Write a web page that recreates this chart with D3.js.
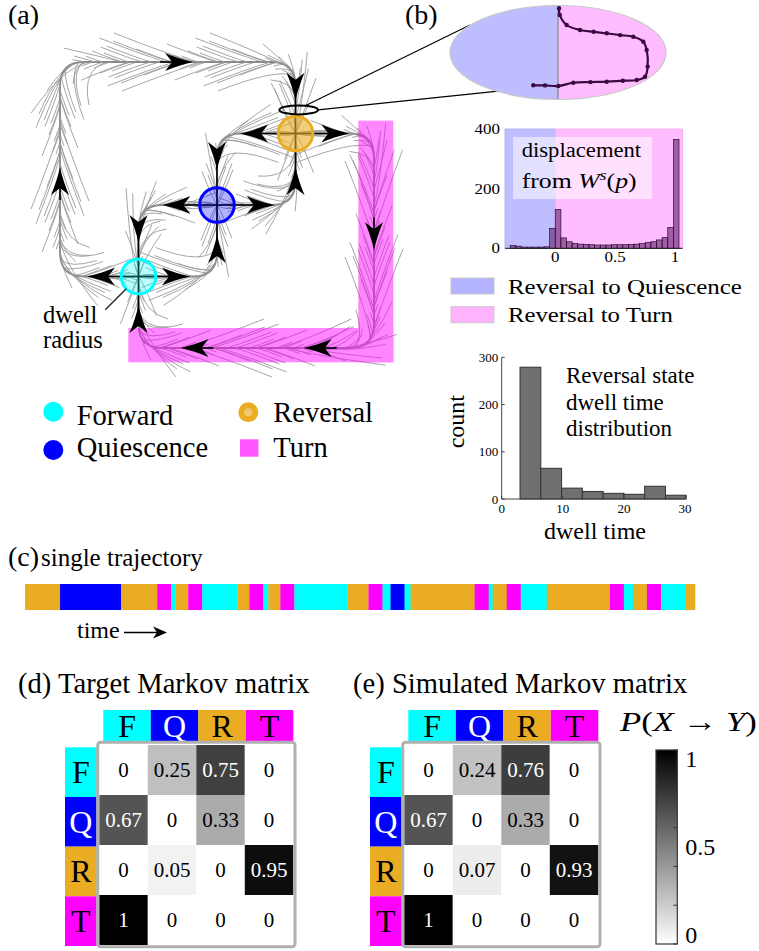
<!DOCTYPE html>
<html><head><meta charset="utf-8">
<script src="https://cdn.jsdelivr.net/npm/d3@7"></script>
<style>body{margin:0;background:#fff}svg{display:block}</style>
</head><body><svg id="fig" width="759" height="951" font-family="Liberation Serif, DejaVu Serif, serif"></svg>
<script>
// ================= DATA =================
const stateNames = ["F","Q","R","T"];
const stateLabels = ["Forward","Quiescence","Reversal","Turn"];
const stateColors = {F:"#00ffff",Q:"#0000ff",R:"#eaac22",T:"#ff00ff"};

// (b) displacement histogram
const dispBinStart = -0.376, dispBinWidth = 0.047;
const dispCounts = [9,7,4,4,4,4,5,67, 130,35,22,16,14,13,12,11,11,11,12,12,12,13,14,16,19,22,28,36,70,365];
const dispXDomain = [-0.42, 1.065];
const dispXTicks = [0,0.5,1];
const dispYTicks = [0,200,400];

// (b) dwell time histogram
const dwellBinStart = 3, dwellBinWidth = 3.4;
const dwellCounts = [279,65,23,16,12,10,27,8];
const dwellXTicks = [0,10,20,30];
const dwellYTicks = [0,100,200,300];

// (b) zoomed trajectory inside the ellipse (normalised ellipse coords)
const ellTrajU = [0.01,0.016,0.08,0.204,0.33,0.451,0.575,0.697,0.79,0.821,0.83,0.806,0.729,0.6,0.451,0.3,0.142,0.003,-0.12,-0.229];
const ellTrajV = [-0.94,-0.80,-0.585,-0.479,-0.44,-0.409,-0.37,-0.336,-0.23,-0.053,0.30,0.515,0.585,0.6,0.621,0.63,0.643,0.713,0.70,0.698];

// (c) single trajectory
const trajStates = ["R","Q","R","T","F","R","T","F","R","T","F","R","T","F","R","T","F","Q","F","R","T","F","R","T","F","R","T","F","R","T","F","R"];
const trajDurations = [35,61,36,14,4,13,14,35,12,14,5,12,14,53,21,14,8,14,6,64,14,4,14,14,26,63,14,9,14,14,25,9];

// (d),(e) Markov matrices
const targetMatrix = [[0,0.25,0.75,0],[0.67,0,0.33,0],[0,0.05,0,0.95],[1,0,0,0]];
const simMatrix    = [[0,0.24,0.76,0],[0.67,0,0.33,0],[0,0.07,0,0.93],[1,0,0,0]];
const cbarTicks = [0,0.5,1];

// (a) schematic network (grid units)
const netNodes = [{s:"F",x:1,y:3},{s:"Q",x:2,y:2},{s:"R",x:3,y:1}];
const netEdges = [
  [[1,3],[0,3],[0,0],[3,0],[3,1]],
  [[3,1],[2,1],[2,2]],
  [[3,1],[4,1],[4,4],[1,4],[1,3]],
  [[2,2],[1,2],[1,3]],
  [[2,2],[3,2],[3,1]],
  [[1,3],[2,3],[2,2]]
];
const netArrows = [[0.51,3,180],[0,1.65,-90],[1.53,0,0],[3,0.36,90],[2.46,1,180],[2,1.33,90],[3.52,1,0],[4,2.45,90],[3.27,4,180],[1.70,4,180],[1,3.58,-90],[1.47,2,180],[1,2.35,90],[2.57,2,0],[3,1.65,-90],[1.49,3,0],[2,2.6,-90]];
const turnBandRects = [[3.8,0.82,4.246,4.2],[0.87,3.72,4.246,4.2]];
const featherOffsets = [4,9,13,18,24,7,15,29,11,21,6,16];

// ================= DRAW =================
const svg = d3.select("#fig");
const FONT = "Liberation Serif, DejaVu Serif, serif";
function T(g,x,y,str,size,anchor){return g.append("text").attr("x",x).attr("y",y).attr("font-family",FONT).attr("font-size",size).attr("text-anchor",anchor||"start").attr("fill","#000").text(str);}
function fitX(sel,w){const b=sel.node().getBBox();const x=+sel.attr("x"),y=+sel.attr("y");sel.attr("x",0).attr("y",0).attr("transform",`translate(${x},${y}) scale(${w/b.width},1)`);}
function roundedPath(pts,r){
  let d=`M${pts[0][0]},${pts[0][1]}`;
  for(let i=1;i<pts.length-1;i++){
    const [px,py]=pts[i-1],[cx,cy]=pts[i],[nx,ny]=pts[i+1];
    const l1=Math.hypot(cx-px,cy-py),l2=Math.hypot(nx-cx,ny-cy),rr=Math.min(r,l1/2,l2/2);
    const a=[cx-(cx-px)/l1*rr,cy-(cy-py)/l1*rr],b=[cx+(nx-cx)/l2*rr,cy+(ny-cy)/l2*rr];
    d+=`L${a[0]},${a[1]}Q${cx},${cy},${b[0]},${b[1]}`;
  }
  const l=pts[pts.length-1];return d+`L${l[0]},${l[1]}`;
}

// ---------- panel (a) ----------
const ax = d3.scaleLinear().domain([0,4]).range([60,374]);
const ay = d3.scaleLinear().domain([0,4]).range([62,348]);
const gA = svg.append("g");
const hidden = svg.append("g").attr("opacity",0);
const streamG = gA.append("g").attr("fill","none").attr("stroke","#969696").attr("stroke-width",0.85);
netEdges.forEach((e,ei)=>{
  const pts=e.map(p=>[ax(p[0]),ay(p[1])]);
  const d=roundedPath(pts,24);
  const node=hidden.append("path").attr("d",d).node();
  const L=node.getTotalLength();
  const P=s=>{const q=node.getPointAtLength(Math.max(0,Math.min(L,s)));return [q.x,q.y];};
  const N=s=>{const a=P(s-1.5),b=P(s+1.5);const dx=b[0]-a[0],dy=b[1]-a[1],m=Math.hypot(dx,dy)||1;return [-dy/m,dx/m];};
  streamG.append("path").attr("d",d).attr("stroke","#888").attr("stroke-width",1.8);
  let k=0;
  for(let s=8;s<L-4;s+=8,k++){
    [-1,1].forEach((side,si)=>{
      const off=featherOffsets[(k*5+si*7+ei*3)%featherOffsets.length];
      const s0=s-off*1.9,s1=s+off*0.9;
      const p0=P(s0),n0=N(s0),pc=P(s),nc=N(s),p1=P(s1);
      const S=[p0[0]+n0[0]*off*side,p0[1]+n0[1]*off*side];
      const C=[pc[0]+nc[0]*off*0.25*side,pc[1]+nc[1]*off*0.25*side];
      streamG.append("path").attr("d",`M${S[0]},${S[1]}Q${C[0]},${C[1]},${p1[0]},${p1[1]}`);
    });
  }
});
// turn band
const bandG=gA.append("g").attr("opacity",0.47);
turnBandRects.forEach(r=>bandG.append("rect").attr("x",ax(r[0])).attr("y",ay(r[1])).attr("width",ax(r[2])-ax(r[0])).attr("height",ay(r[3])-ay(r[1])).attr("fill","#ff00ff"));
// black segments & arrows
const arrowPath="M13,0 C4,-2 -6,-5 -15,-9 L-8,0 L-15,9 C-6,5 4,2 13,0Z";
netArrows.forEach(a=>{
  let best=null,bd=1e9;netNodes.forEach(n=>{const dd=Math.hypot(n.x-a[0],n.y-a[1]);if(dd<bd){bd=dd;best=n;}});
  const px=ax(a[0]),py=ay(a[1]);
  if(bd<0.7){gA.append("line").attr("x1",ax(best.x)).attr("y1",ay(best.y)).attr("x2",px).attr("y2",py).attr("stroke","#000").attr("stroke-width",1.6);}
  else{const r=a[2]*Math.PI/180;gA.append("line").attr("x1",px).attr("y1",py).attr("x2",px-Math.cos(r)*20).attr("y2",py-Math.sin(r)*20).attr("stroke","#000").attr("stroke-width",1.6);}
  gA.append("path").attr("d",arrowPath).attr("transform",`translate(${px},${py}) rotate(${a[2]})`).attr("fill","#000");
});
// nodes
const nodeFill={F:["#00ffff",0.28],Q:["#0000ff",0.3],R:["#eaac22",0.6]};
netNodes.forEach(n=>{
  gA.append("circle").attr("cx",ax(n.x)).attr("cy",ay(n.y)).attr("r",17.3).attr("fill",nodeFill[n.s][0]).attr("fill-opacity",nodeFill[n.s][1]).attr("stroke",stateColors[n.s]).attr("stroke-width",3);
});
// small zoom ellipse + connectors
const se={cx:ax(3.04),cy:ay(0.67),rx:19.3,ry:4.5};
gA.append("ellipse").attr("cx",se.cx).attr("cy",se.cy).attr("rx",se.rx).attr("ry",se.ry).attr("fill","none").attr("stroke","#000").attr("stroke-width",2);
const eu=d3.scaleLinear().domain([-1,1]).range([450,666]);
const ev=d3.scaleLinear().domain([-1,1]).range([5.5,99.5]);
const conn=[[-70,-0.815,-0.585],[0,-0.509,0.813]];
conn.forEach(c=>{const r=c[0]*Math.PI/180;gA.append("line").attr("x1",se.cx+se.rx*Math.cos(r)).attr("y1",se.cy+se.ry*Math.sin(r)).attr("x2",eu(c[1])).attr("y2",ev(c[2])).attr("stroke","#000").attr("stroke-width",1.2);});
// dwell radius
{const c=netNodes[0],r=135*Math.PI/180,cx=ax(c.x),cy=ay(c.y);
 gA.append("line").attr("x1",cx+17.3*Math.cos(r)).attr("y1",cy+17.3*Math.sin(r)).attr("x2",cx+47*Math.cos(r)).attr("y2",cy+47*Math.sin(r)).attr("stroke","#333").attr("stroke-width",1.6);
 T(gA,43,322.7,"dwell",24.5);T(gA,43,348.3,"radius",24.5);}
T(gA,8,24,"(a)",28);
// legend (a)
const legA=[{s:"F",x:53.3,y:411.7,tx:76.7,ty:425},{s:"Q",x:53.3,y:450,tx:76.7,ty:457.3},{s:"R",x:248.3,y:412.3,tx:273.3,ty:421.7},{s:"T",x:249.2,y:448,tx:273.3,ty:456.7}];
legA.forEach((l,i)=>{
  if(l.s==="T") gA.append("rect").attr("x",l.x-9.2).attr("y",l.y-8.7).attr("width",18.4).attr("height",17.4).attr("fill","#ff55ff");
  else if(l.s==="R"){gA.append("circle").attr("cx",l.x).attr("cy",l.y).attr("r",10).attr("fill","#eaac22");gA.append("circle").attr("cx",l.x).attr("cy",l.y).attr("r",4).attr("fill","#f2c677");}
  else gA.append("circle").attr("cx",l.x).attr("cy",l.y).attr("r",10).attr("fill",stateColors[l.s]);
  T(gA,l.tx,l.ty,stateLabels[stateNames.indexOf(l.s)],28.5);
});

// ---------- panel (b) ----------
const gB=svg.append("g");
T(gB,405,24,"(b)",28);
// big ellipse
const clip=svg.append("defs").append("clipPath").attr("id","ellClip");
clip.append("ellipse").attr("cx",eu(0)).attr("cy",ev(0)).attr("rx",(eu(1)-eu(-1))/2).attr("ry",(ev(1)-ev(-1))/2);
const eg=gB.append("g").attr("clip-path","url(#ellClip)");
eg.append("rect").attr("x",eu(-1)).attr("y",ev(-1)).attr("width",eu(0)-eu(-1)).attr("height",ev(1)-ev(-1)).attr("fill","#bdbdff");
eg.append("rect").attr("x",eu(0)).attr("y",ev(-1)).attr("width",eu(1)-eu(0)).attr("height",ev(1)-ev(-1)).attr("fill","#ffbdff");
eg.append("line").attr("x1",eu(0)).attr("x2",eu(0)).attr("y1",ev(-1)).attr("y2",ev(1)).attr("stroke","#777").attr("stroke-width",1);
gB.append("ellipse").attr("cx",eu(0)).attr("cy",ev(0)).attr("rx",(eu(1)-eu(-1))/2).attr("ry",(ev(1)-ev(-1))/2).attr("fill","none").attr("stroke","#c8c8c8").attr("stroke-width",1.2);
const ellPts=ellTrajU.map((u,i)=>[eu(u),ev(ellTrajV[i])]);
gB.append("path").attr("d",d3.line().curve(d3.curveCatmullRom)(ellPts)).attr("fill","none").attr("stroke","#3a0a40").attr("stroke-width",2.2);
gB.selectAll(null).data(ellPts).enter().append("circle").attr("cx",d=>d[0]).attr("cy",d=>d[1]).attr("r",2.2).attr("fill","#3a0a40");

// displacement histogram
const hx=d3.scaleLinear().domain(dispXDomain).range([505,682.7]);
const hy=d3.scaleLinear().domain([0,400]).range([248.3,129]);
gB.append("rect").attr("x",hx(dispXDomain[0])).attr("y",hy(400)).attr("width",hx(0)-hx(dispXDomain[0])).attr("height",hy(0)-hy(400)).attr("fill","#bdbdff").attr("stroke","#aaaaee").attr("stroke-width",0.8);
gB.append("rect").attr("x",hx(0)).attr("y",hy(400)).attr("width",hx(dispXDomain[1])-hx(0)).attr("height",hy(0)-hy(400)).attr("fill","#ffbdff").attr("stroke","#eeaaee").attr("stroke-width",0.8);
gB.append("rect").attr("x",513).attr("y",137).attr("width",139).attr("height",62).attr("fill","#fff").attr("opacity",0.55);
gB.selectAll(null).data(dispCounts).enter().append("rect")
  .attr("x",(d,i)=>hx(dispBinStart+i*dispBinWidth)).attr("width",hx(dispBinWidth)-hx(0))
  .attr("y",d=>hy(d)).attr("height",d=>hy(0)-hy(d))
  .attr("fill","#5b1a66").attr("fill-opacity",0.58).attr("stroke","#2b0b33").attr("stroke-width",0.7);
gB.append("line").attr("x1",hx(dispXDomain[0])).attr("x2",hx(dispXDomain[1])).attr("y1",hy(0)).attr("y2",hy(0)).attr("stroke","#222").attr("stroke-width",1);
dispYTicks.forEach(t=>{T(gB,500,hy(t)+5,String(t),15,"end").attr("transform",`translate(${500*(1-1.13)},0) scale(1.13,1)`);});
dispXTicks.forEach(t=>{T(gB,hx(t),262,String(t),15,"middle").attr("transform",`translate(${hx(t)*(1-1.13)},0) scale(1.13,1)`);});
{const t1=T(gB,521.7,156.7,"displacement",20);fitX(t1,120);
 const t2=gB.append("text").attr("x",521.7).attr("y",188.3).attr("font-family",FONT).attr("font-size",20).attr("fill","#000");
 t2.append("tspan").text("from ");t2.append("tspan").attr("font-style","italic").text("W");
 t2.append("tspan").attr("font-style","italic").attr("font-size",14).attr("dy",-8).text("s");
 t2.append("tspan").attr("dy",8).text("(");t2.append("tspan").attr("font-style","italic").text("p");t2.append("tspan").text(")");
 fitX(t2,115);}
// legend (b)
[["#b3b3ff","Reversal to Quiescence",278,294,234],["#ffb3ff","Reversal to Turn",306.7,321.7,165]].forEach(l=>{
  gB.append("rect").attr("x",451).attr("y",l[2]).attr("width",43).attr("height",16).attr("fill",l[0]).attr("stroke","#c8c8c8").attr("stroke-width",1);
  const t=T(gB,508,l[3],l[1],22);fitX(t,l[4]);
});
// dwell histogram
const dx=d3.scaleLinear().domain([0,30]).range([501.7,685]);
const dy=d3.scaleLinear().domain([0,300]).range([499,357.3]);
gB.selectAll(null).data(dwellCounts).enter().append("rect")
  .attr("x",(d,i)=>dx(dwellBinStart+i*dwellBinWidth)).attr("width",dx(dwellBinWidth)-dx(0))
  .attr("y",d=>dy(d)).attr("height",d=>dy(0)-dy(d)).attr("fill","#707070").attr("stroke","#333").attr("stroke-width",1);
gB.append("line").attr("x1",dx(0)).attr("x2",dx(0)).attr("y1",dy(0)).attr("y2",dy(300)).attr("stroke","#444").attr("stroke-width",1);
gB.append("line").attr("x1",dx(0)).attr("x2",dx(30)).attr("y1",dy(0)).attr("y2",dy(0)).attr("stroke","#444").attr("stroke-width",1);
dwellYTicks.forEach(t=>{gB.append("line").attr("x1",dx(0)).attr("x2",dx(0)+3).attr("y1",dy(t)).attr("y2",dy(t)).attr("stroke","#444");T(gB,498.3,dy(t)+4.5,String(t),13,"end");});
dwellXTicks.forEach(t=>{gB.append("line").attr("x1",dx(t)).attr("x2",dx(t)).attr("y1",dy(0)).attr("y2",dy(0)-3).attr("stroke","#444");T(gB,dx(t),513,String(t),13,"middle");});
T(gB,0,0,"count",24,"middle").attr("transform",`translate(464,421.7) rotate(-90)`);
T(gB,595,539,"dwell time",24,"middle");
T(gB,566,382.7,"Reversal state",23);T(gB,566,410,"dwell time",23);T(gB,566,436,"distribution",23);

// ---------- panel (c) ----------
const gC=svg.append("g");
T(gC,8,566,"(c)",28);T(gC,41,566,"single trajectory",25);
const total=d3.sum(trajDurations);
const tx=d3.scaleLinear().domain([0,total]).range([25,695]);
const starts=d3.cumsum([0].concat(trajDurations));
gC.selectAll(null).data(trajStates).enter().append("rect")
  .attr("x",(d,i)=>tx(starts[i])).attr("width",(d,i)=>tx(starts[i]+trajDurations[i])-tx(starts[i])+0.3)
  .attr("y",584).attr("height",26).attr("fill",d=>stateColors[d]);
T(gC,77,638,"time",24);
gC.append("line").attr("x1",124).attr("x2",158).attr("y1",632.5).attr("y2",632.5).attr("stroke","#000").attr("stroke-width",1.6);
gC.append("path").attr("d","M167,632.5 L153,626.5 L157,632.5 L153,638.5Z").attr("fill","#000");

// ---------- panels (d),(e) ----------
const gray=v=>{const g=Math.round((1-v)*255);return `rgb(${g},${g},${g})`;};
function matrix(g,ox,M){
  const cx=d3.scaleBand().domain(stateNames).range([ox+99.3,ox+293.3]);
  const cy=d3.scaleBand().domain(stateNames).range([745,945]);
  const hxB=d3.scaleBand().domain(stateNames).range([ox+103.3,ox+293.3]);
  const hyB=d3.scaleBand().domain(stateNames).range([747.3,946]);
  stateNames.forEach(s=>{
    g.append("rect").attr("x",hxB(s)).attr("y",710).attr("width",hxB.bandwidth()).attr("height",31.7).attr("fill",stateColors[s]);
    T(g,hxB(s)+hxB.bandwidth()/2,737,s,32,"middle").attr("fill",s==="Q"?"#fff":"#000");
    g.append("rect").attr("x",ox+65).attr("y",hyB(s)).attr("width",31.7).attr("height",hyB.bandwidth()).attr("fill",stateColors[s]);
    T(g,ox+65+15.85,hyB(s)+hyB.bandwidth()/2+11,s,32,"middle").attr("fill",s==="Q"?"#fff":"#000");
  });
  M.forEach((row,i)=>row.forEach((v,j)=>{
    g.append("rect").attr("x",cx(stateNames[j])).attr("y",cy(stateNames[i])).attr("width",cx.bandwidth()).attr("height",cy.bandwidth()).attr("fill",gray(v));
    T(g,cx(stateNames[j])+cx.bandwidth()/2,cy(stateNames[i])+cy.bandwidth()/2+7,String(v),21,"middle").attr("fill",v>0.5?"#fff":"#000");
  }));
  g.append("rect").attr("x",ox+97.7).attr("y",742.3).attr("width",197.3).attr("height",204.4).attr("rx",3).attr("fill","none").attr("stroke","#b0b0b0").attr("stroke-width",3);
}
const gD=svg.append("g");
T(gD,18,693,"(d) Target Markov matrix",28.6);
matrix(gD,0,targetMatrix);
T(gD,353,693,"(e) Simulated Markov matrix",28.6);
matrix(gD,305,simMatrix);
// colorbar
const defs=svg.select("defs");
const grad=defs.append("linearGradient").attr("id","cbg").attr("x1",0).attr("x2",0).attr("y1",1).attr("y2",0);
grad.append("stop").attr("offset","0%").attr("stop-color","#fff");grad.append("stop").attr("offset","100%").attr("stop-color","#000");
const cb=d3.scaleLinear().domain([0,1]).range([944,750]);
gD.append("rect").attr("x",656).attr("y",cb(1)).attr("width",21.3).attr("height",cb(0)-cb(1)).attr("fill","url(#cbg)").attr("stroke","#333").attr("stroke-width",1.2);
cb.ticks(5).forEach(t=>gD.append("line").attr("x1",677.3-4).attr("x2",677.3).attr("y1",cb(t)).attr("y2",cb(t)).attr("stroke","#333"));
cbarTicks.forEach(t=>T(gD,685.3,Math.max(cb(1)+9,Math.min(cb(0)-9,cb(t)))+8,String(t),24));
{const p=gD.append("text").attr("x",620).attr("y",731).attr("font-family",FONT).attr("font-size",28).attr("fill","#000");
 p.append("tspan").attr("font-style","italic").text("P");p.append("tspan").text("(");
 p.append("tspan").attr("font-style","italic").text("X");p.append("tspan").text(" \u2192 ");
 p.append("tspan").attr("font-style","italic").text("Y");p.append("tspan").text(")");
 fitX(p,138);}
</script></body></html>
